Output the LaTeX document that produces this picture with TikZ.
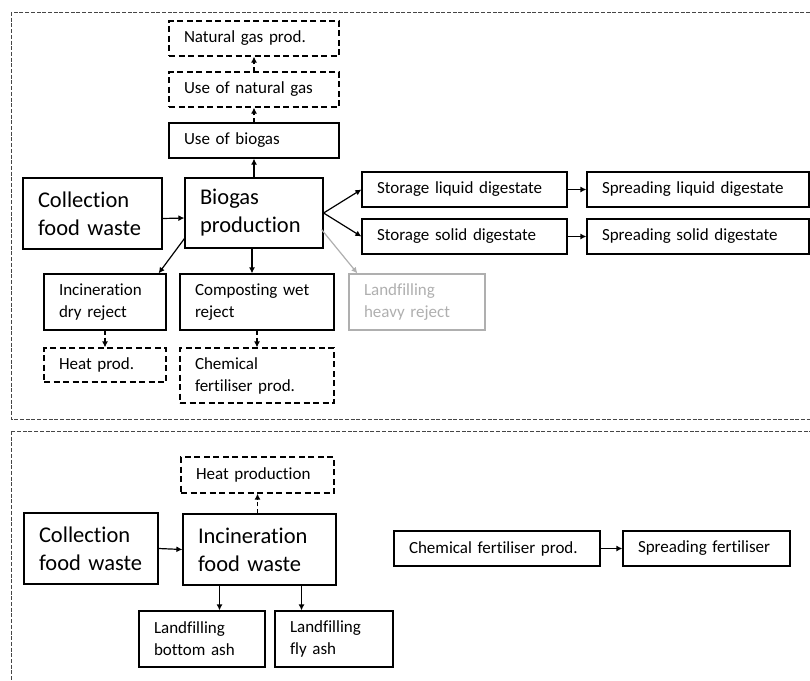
\documentclass[tikz,border=0pt]{standalone}
\usepackage{fontspec}
\setmainfont{Carlito}[Ligatures={NoCommon}]
\usetikzlibrary{arrows.meta}

\definecolor{lightgrey}{RGB}{175,175,175}
\definecolor{panelgrey}{RGB}{70,70,70}

\tikzset{
    box/.style={draw, rectangle, line width=1.2pt, align=left, inner xsep=15pt, inner ysep=2pt,
        font=\fontsize{17}{22}\selectfont, text width=#1},
    bigbox/.style={box=#1, font=\fontsize{22.5}{28}\selectfont},
    optbox/.style={box=#1, dash pattern=on 6pt off 3.5pt},
    greybox/.style={box=#1, draw=lightgrey, text=lightgrey},
    arr/.style={-{Latex[length=6pt,width=6pt]}, line width=1.2pt},
    optarr/.style={arr, dash pattern=on 4pt off 3pt},
    panel/.style={draw=panelgrey, line width=0.8pt, dash pattern=on 4pt off 1.7pt}
}

\begin{document}
\begin{tikzpicture}[x=1pt, y=-1pt]
        % Setup the structure
        \useasboundingbox (0,0) rectangle (810,680);
        \clip (0,0) rectangle (810,680);
        \draw[panel] (11,12) rectangle (830,419);
        \draw[panel] (11,431) rectangle (830,700);

        % Biogas scenario
        \node[bigbox=109, minimum height=71] (coll) at (92.5,213.5) {Collection\\food waste};
        \node[bigbox=108, minimum height=70] (biogas) at (254,213) {Biogas\\production};
        \node[box=140, minimum height=35] (usebio) at (254,140.5) {Use of biogas};
        \node[optbox=140, minimum height=35] (usengas) at (254,89.5) {Use of natural gas};
        \node[optbox=140, minimum height=35] (ngas) at (254,38.5) {Natural gas prod.};
        \node[box=175, minimum height=35] (storliq) at (464.5,189.5) {Storage liquid digestate};
        \node[box=175, minimum height=35] (storsol) at (464.5,236.5) {Storage solid digestate};
        \node[box=192, minimum height=35] (sprliq) at (698,189.5) {Spreading liquid digestate};
        \node[box=192, minimum height=35] (sprsol) at (698,236.5) {Spreading solid digestate};
        \node[box=92, minimum height=56] (incdry) at (105,302) {Incineration\\dry reject};
        \node[box=124, minimum height=56] (comp) at (257,302) {Composting wet\\reject};
        \node[greybox=106, minimum height=56] (landheavy) at (417,302) {Landfilling\\heavy reject};
        \node[optbox=92, minimum height=34] (heat) at (105,365) {Heat prod.};
        \node[optbox=124, minimum height=55] (chemfert) at (257,375.5) {Chemical\\fertiliser prod.};

        \draw[arr] ([yshift=-5pt]coll.east) -- ([yshift=-5pt]biogas.west);
        \draw[arr] (biogas.north) -- (usebio.south);
        \draw[optarr] (usebio.north) -- (usengas.south);
        \draw[optarr] (usengas.north) -- (ngas.south);
        \draw[arr] (biogas.east) -- (storliq.west);
        \draw[arr] (biogas.east) -- (storsol.west);
        \draw[arr] (storliq.east) -- (sprliq.west);
        \draw[arr] (storsol.east) -- (sprsol.west);
        \draw[arr] ([yshift=10pt]biogas.south west) -- ([xshift=-8pt]incdry.north east);
        \draw[arr] ([xshift=-2pt]biogas.south) -- ([xshift=-2pt]biogas.south |- comp.north);
        \draw[arr, lightgrey] ([shift={(-2pt,19pt)}]biogas.south east) -- ([xshift=9pt]landheavy.north west);
        \draw[optarr] (incdry.south) -- (heat.north);
        \draw[optarr] (comp.south) -- (chemfert.north);

        % Incineration scenario
        \node[bigbox=104, minimum height=71] (coll2) at (91,548.5) {Collection\\food waste};
        \node[bigbox=123, minimum height=71] (incfood) at (259.5,549.5) {Incineration\\food waste};
        \node[optbox=123, minimum height=36] (heatprod) at (257.5,475) {Heat production};
        \node[box=96, minimum height=56] (landbot) at (202,639) {Landfilling\\bottom ash};
        \node[box=88, minimum height=56] (landfly) at (334,639) {Landfilling\\fly ash};
        \node[box=176, minimum height=35] (chemf2) at (497,548.5) {Chemical fertiliser prod.};
        \node[box=137, minimum height=35] (sprfert) at (706.5,548.5) {Spreading fertiliser};

        \draw[arr] (coll2.east) -- (incfood.west);
        \draw[optarr] (heatprod.south |- incfood.north) -- (heatprod.south);
        \draw[arr] ([xshift=-40pt]incfood.south) -- ([xshift=-40pt]incfood.south |- landbot.north);
        \draw[arr] ([xshift=42pt]incfood.south) -- ([xshift=42pt]incfood.south |- landfly.north);
        \draw[arr] (chemf2.east) -- (sprfert.west);

    \end{tikzpicture}
\end{document}
